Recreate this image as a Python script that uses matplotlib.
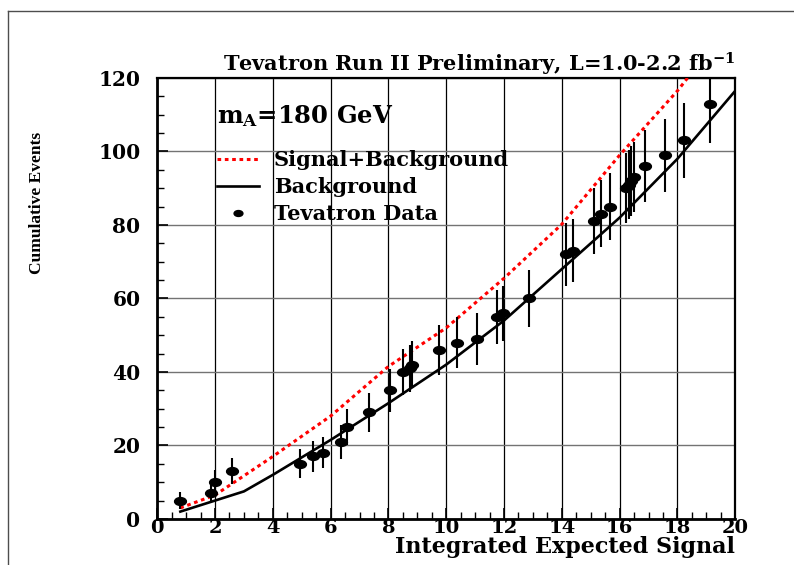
import matplotlib
matplotlib.use('Agg')
import matplotlib.pyplot as plt
from matplotlib.lines import Line2D
from matplotlib.path import Path
from matplotlib.transforms import Affine2D
from matplotlib.ticker import MultipleLocator

plt.rcParams['font.family'] = 'DejaVu Serif'
plt.rcParams['font.weight'] = 'bold'
plt.rcParams['mathtext.fontset'] = 'dejavuserif'

# Данные
data_x = [0.8, 1.85, 2.0, 2.6, 4.95, 5.4, 5.75, 6.35, 6.58, 7.32, 8.05, 8.5,
          8.75, 8.82, 9.75, 10.38, 11.08, 11.76, 11.96, 12.88, 14.14, 14.39,
          15.1, 15.34, 15.65, 16.23, 16.32, 16.4, 16.48, 16.87, 17.56, 18.22, 19.14]
data_y = [5, 7, 10, 13, 15, 17, 18, 21, 25, 29, 35, 40,
          41, 42, 46, 48, 49, 55, 56, 60, 72, 73,
          81, 83, 85, 90, 91, 92, 93, 96, 99, 103, 113]
data_err = [2.2, 2.6, 3.2, 3.6, 3.9, 4.1, 4.2, 4.6, 5.0, 5.4, 5.9, 6.3,
            6.4, 6.5, 6.8, 6.9, 7.0, 7.4, 7.5, 7.7, 8.5, 8.5,
            9.0, 9.1, 9.2, 9.5, 9.5, 9.6, 9.6, 9.8, 9.9, 10.1, 10.6]

bkg_x = [0.8, 2, 3, 4, 6, 8, 10, 12, 14, 16, 18, 20]
bkg_y = [2, 5, 7.5, 12, 21.5, 31.5, 42, 54, 68, 82, 98, 116.5]

sb_x = [0.8, 2, 4, 6, 8, 10, 12, 14, 16, 18, 18.35]
sb_y = [3, 6.5, 17, 28, 41.5, 52, 65.5, 80.2, 99, 116.5, 120]

# эллиптический маркер (точки на оригинале растянуты по горизонтали)
ellipse = Path.unit_circle().transformed(Affine2D().scale(1.5, 1.0))

fig = plt.figure(figsize=(7.94, 5.65), dpi=100)
ax = fig.add_axes([0.198, 0.0815, 0.728, 0.7805])

ax.plot(sb_x, sb_y, color='red', lw=2.2, linestyle=(0, (1.2, 1.2)),
        label='Signal+Background', zorder=3)
ax.plot(bkg_x, bkg_y, color='black', lw=1.9, label='Background', zorder=3)
ax.errorbar(data_x, data_y, yerr=data_err, fmt='none', ecolor='black',
            elinewidth=1.5, capsize=0, zorder=4)
ax.plot(data_x, data_y, linestyle='none', marker=ellipse, markersize=8.5,
        color='black', label='Tevatron Data', zorder=5)

ax.set_xlim(0, 20)
ax.set_ylim(0, 120)
ax.xaxis.set_major_locator(MultipleLocator(2))
ax.xaxis.set_minor_locator(MultipleLocator(0.5))
ax.yaxis.set_major_locator(MultipleLocator(20))
ax.yaxis.set_minor_locator(MultipleLocator(5))
ax.tick_params(which='both', direction='in', top=False, right=False)
ax.tick_params(which='major', length=8, width=1.2, labelsize=14.5)
ax.tick_params(which='minor', length=5, width=1.0)
ax.tick_params(axis='y', pad=12)
ax.tick_params(axis='x', pad=0, labelsize=14)
for lab in ax.get_xticklabels() + ax.get_yticklabels():
    lab.set_fontweight('bold')

ax.grid(True, axis='x', which='major', color='black', lw=0.9)
ax.grid(True, axis='y', which='major', color='0.45', lw=1.0)
ax.set_axisbelow(True)

for s in ax.spines.values():
    s.set_linewidth(1.6)
ax.spines['left'].set_linewidth(2.0)
ax.spines['bottom'].set_linewidth(2.0)

ax.set_title(r'Tevatron Run II Preliminary, L=1.0-2.2 fb$^{\mathbf{-1}}$',
             loc='right', fontsize=15, fontweight='bold', pad=4)
ax.set_xlabel('Integrated Expected Signal', loc='right', fontsize=16,
              fontweight='bold', labelpad=-1)
fig.text(0.047, 1 - 203 / 565, 'Cumulative Events', rotation=90,
         ha='center', va='center', fontsize=12.5, family='Liberation Serif',
         fontweight='bold')

# легенда
ax.text(0.104, 0.913, r'$\mathbf{m_A}$=180 GeV', transform=ax.transAxes,
        fontsize=17.5, fontweight='bold', ha='left', va='center')
leg = ax.legend(loc='upper left', bbox_to_anchor=(0.104, 0.836), frameon=False,
                fontsize=15, handlelength=2.0, handletextpad=0.7,
                labelspacing=0.33, markerscale=0.75, borderaxespad=0,
                borderpad=0)
for t in leg.get_texts():
    t.set_fontweight('bold')

# рамка вокруг картинки
fig.add_artist(Line2D([0.010, 0.010], [0, 0.9805], color='0.3', lw=1.0))
fig.add_artist(Line2D([0.010, 1.0], [0.9805, 0.9805], color='0.3', lw=1.0))

plt.savefig('out.png', dpi=100)
